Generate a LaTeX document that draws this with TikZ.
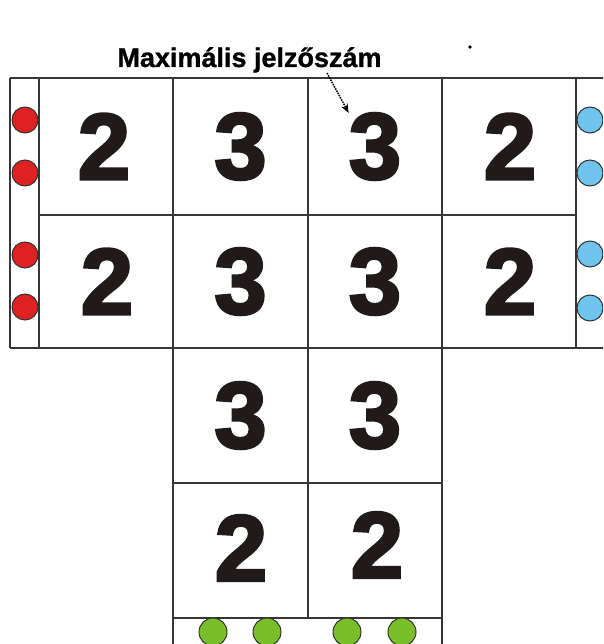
\documentclass[tikz,border=0pt]{standalone}
\usepackage{fontspec}
\setmainfont{Liberation Sans}
\newfontfamily\digitfont{Liberation Sans}[BoldFeatures={FakeBold=3}]
\newfontfamily\labelfont{Liberation Sans}[BoldFeatures={FakeBold=1}]
\usepackage{tikz}
\usetikzlibrary{arrows.meta,positioning}
\definecolor{gridgray}{RGB}{55,55,55}
\definecolor{digitblack}{RGB}{32,26,26}
\definecolor{lampred}{RGB}{222,34,34}
\definecolor{lampblue}{RGB}{110,196,236}
\definecolor{lampgreen}{RGB}{122,190,42}
\tikzset{
  wall/.style={gridgray, line width=1.5pt},
  cellnum/.style={inner sep=0pt, text=digitblack, font=\digitfont\bfseries\fontsize{94}{94}\selectfont},
  lamp/.style={draw=black!80, line width=1pt},
}

\begin{document}
\begin{tikzpicture}[x=1pt, y=-1pt, >={Stealth[length=9pt,width=7pt]}]
        \useasboundingbox (0,0) rectangle (603,644);
        \clip (0,0) rectangle (603,644);
        % frame of the rooms
        \draw[wall] (10,78) -- (610,78);
        \draw[wall] (10,348) -- (610,348);
        \draw[wall] (39,215) -- (576,215);
        \draw[wall] (173,483) -- (442,483);
        \draw[wall] (173,618) -- (442,618);
        \draw[wall] (10,78) -- (10,348);
        \draw[wall] (39,78) -- (39,348);
        \draw[wall] (173,78) -- (173,650);
        \draw[wall] (308,78) -- (308,618);
        \draw[wall] (442,78) -- (442,650);
        \draw[wall] (576,78) -- (576,348);
        % numbers in the cells
        \node[cellnum] (d11) at (104,146.5) {2};
        \node[cellnum] (d12) at (240.5,146.5) {3};
        \node[cellnum] (d13) at (375,146.5) {3};
        \node[cellnum] (d14) at (510,146.5) {2};
        \node[cellnum] (d21) at (107,281.5) {2};
        \node[cellnum] (d22) at (240.5,281.5) {3};
        \node[cellnum] (d23) at (375,281.5) {3};
        \node[cellnum] (d24) at (510,281.5) {2};
        \node[cellnum] (d32) at (240.5,415.5) {3};
        \node[cellnum] (d33) at (375,415.5) {3};
        \node[cellnum] (d42) at (241,548) {2};
        \node[cellnum] (d43) at (377,545) {2};
        % lamps
        \foreach \y in {120,173,255,307}
            \filldraw[lamp, fill=lampred] (25,\y) circle (13);
        \foreach \y in {120,173,254,308}
            \filldraw[lamp, fill=lampblue] (590,\y) circle (13);
        \foreach \x in {213,267,347,402}
            \filldraw[lamp, fill=lampgreen] (\x,632) circle (14);
        % label
        \node[anchor=base, font=\labelfont\bfseries\fontsize{27}{27}\selectfont] (title) at (249.5,67) {Maximális jelzőszám};
        \coordinate (arrowtail) at (327,73);
        \draw[->, densely dotted, line width=1.5pt] (arrowtail) -- (d13.north west);
        \fill (470,47) circle (1.8);
    \end{tikzpicture}
\end{document}
